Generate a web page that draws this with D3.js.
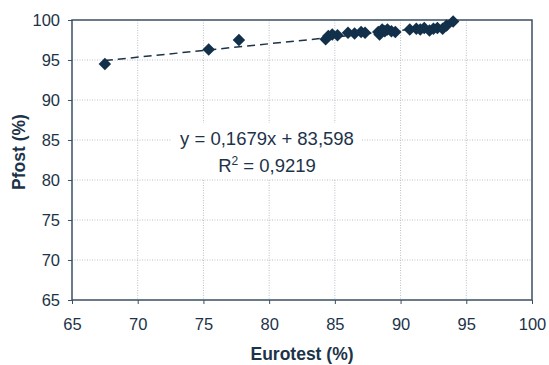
<!DOCTYPE html>
<html>
<head>
<meta charset="utf-8">
<script src="https://cdn.jsdelivr.net/npm/d3@7"></script>
<style>
  body { margin: 0; background: #fff; }
  text { font-family: "Liberation Sans", Arial, sans-serif; fill: #1c3349; }
  .grid line { stroke: #b8c0c8; stroke-dasharray: 1,1.5; }
  .axis path, .axis line { stroke: #3a4f63; }
</style>
</head>
<body>
<svg id="chart" width="549" height="365"></svg>
<script>
// measured points (Eurotest %, Pfost %)
const eurotest = [67.5, 75.4, 77.7, 84.3, 84.5, 84.8, 85.2, 86.0, 86.5, 87.0, 87.3,
  88.3, 88.4, 88.6, 88.8, 89.0, 89.3, 89.6, 90.7, 91.2, 91.5, 91.8, 92.2, 92.5, 92.8, 93.2, 93.5, 94.0];
const pfost = [94.5, 96.3, 97.5, 97.6, 98.0, 98.2, 98.1, 98.4, 98.3, 98.5, 98.4,
  98.5, 98.2, 98.8, 98.6, 98.8, 98.6, 98.5, 98.8, 98.9, 98.8, 99.0, 98.7, 98.9, 99.0, 98.9, 99.3, 99.8];
const xTicks = [65, 70, 75, 80, 85, 90, 95, 100];
const yTicks = [65, 70, 75, 80, 85, 90, 95, 100];
const slope = 0.1679, intercept = 83.598;
const eqLabel = "y = 0,1679x + 83,598";
const r2Label = "0,9219";

const svg = d3.select("#chart"),
  m = {left: 72, top: 20, right: 17, bottom: 65},
  w = 549 - m.left - m.right,
  h = 365 - m.top - m.bottom;

const g = svg.append("g").attr("transform", `translate(${m.left},${m.top})`);

const x = d3.scaleLinear().domain([65, 100]).range([0, w]);
const y = d3.scaleLinear().domain([65, 100]).range([h, 0]);

// dotted grid
g.append("g").attr("class", "grid")
  .selectAll("line.v").data(xTicks.slice(1, -1)).enter().append("line")
    .attr("x1", d => x(d)).attr("x2", d => x(d)).attr("y1", 0).attr("y2", h);
g.append("g").attr("class", "grid")
  .selectAll("line.h").data(yTicks.slice(1, -1)).enter().append("line")
    .attr("y1", d => y(d)).attr("y2", d => y(d)).attr("x1", 0).attr("x2", w);

// equation label box (covers grid)
const cx = 267 - m.left;
g.append("rect").attr("x", cx - 95).attr("y", 123 - m.top).attr("width", 190).attr("height", 56).attr("fill", "#fff");
const eq = g.append("text").attr("x", cx).attr("y", 145 - m.top)
  .attr("text-anchor", "middle").style("font-size", "18.5px").text(eqLabel);
const r2 = g.append("text").attr("x", cx).attr("y", 172 - m.top)
  .attr("text-anchor", "middle").style("font-size", "18.5px");
r2.append("tspan").text("R");
r2.append("tspan").attr("dy", -7).style("font-size", "12px").text("2");
r2.append("tspan").attr("dy", 7).text(" = " + r2Label);

// frame
g.append("rect").attr("width", w).attr("height", h)
  .attr("fill", "none").attr("stroke", "#3a4f63").attr("stroke-width", 1.5);

// axes
g.append("g").attr("class", "axis").attr("transform", `translate(0,${h})`)
  .call(d3.axisBottom(x).tickValues(xTicks).tickSize(4).tickPadding(14))
  .call(a => a.select(".domain").remove())
  .selectAll("text").style("font-size", "16.5px");
g.append("g").attr("class", "axis")
  .call(d3.axisLeft(y).tickValues(yTicks).tickSize(4).tickPadding(8))
  .call(a => a.select(".domain").remove())
  .selectAll("text").style("font-size", "16.5px").attr("dy", "0.35em");

// trend line
const xs = d3.extent(eurotest);
g.append("path")
  .datum(xs.map(v => [v, slope * v + intercept]))
  .attr("fill", "none").attr("stroke", "#1c3349").attr("stroke-width", 1.5)
  .attr("stroke-dasharray", "8,5")
  .attr("d", d3.line().x(d => x(d[0])).y(d => y(d[1])));

// points (rotated squares)
const marker = d3.symbol().type(d3.symbolSquare).size(78);
g.selectAll("path.pt").data(eurotest.map((v, i) => [v, pfost[i]])).enter()
  .append("path").attr("class", "pt")
  .attr("d", marker)
  .attr("transform", d => `translate(${x(d[0])},${y(d[1])}) rotate(45)`)
  .attr("fill", "#12304a");

// titles
svg.append("text").attr("x", m.left + w / 2).attr("y", 360)
  .attr("text-anchor", "middle").style("font-size", "17.5px").style("font-weight", "bold")
  .text("Eurotest (%)");
svg.append("text").attr("transform", `translate(25,${m.top + h / 2 - 8}) rotate(-90)`)
  .attr("text-anchor", "middle").style("font-size", "17.5px").style("font-weight", "bold")
  .text("Pfost (%)");
</script>
</body>
</html>
